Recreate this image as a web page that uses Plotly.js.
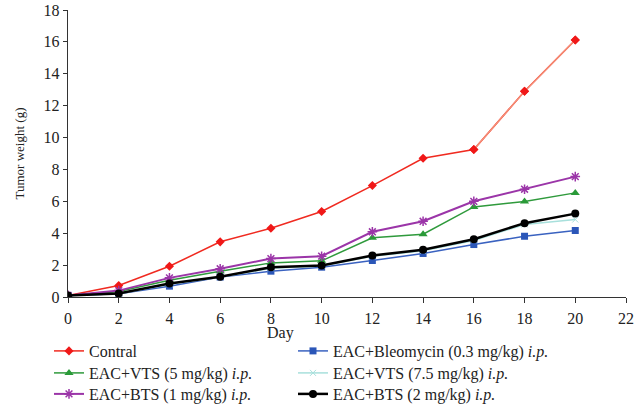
<!DOCTYPE html>
<html><head><meta charset="utf-8">
<script src="https://cdn.plot.ly/plotly-3.0.1.min.js"></script>
<style>html,body{margin:0;padding:0;background:#fff}#chart{width:640px;height:405px}</style>
</head><body><div id="chart"></div>
<script>
const days = [0, 2, 4, 6, 8, 10, 12, 14, 16, 18, 20];
const control    = [0.1, 0.72, 1.93, 3.46, 4.31, 5.36, 6.99, 8.70, 9.25, 12.9, 16.12];
const bleomycin  = [0.1, 0.2, 0.68, 1.25, 1.62, 1.87, 2.29, 2.73, 3.29, 3.81, 4.17];
const vts5       = [0.1, 0.35, 1.05, 1.62, 2.14, 2.27, 3.71, 3.94, 5.65, 5.99, 6.53];
const vts75      = [0.1, 0.2, 0.8, 1.25, 1.8, 1.95, 2.55, 2.9, 3.55, 4.55, 4.86];
const bts1       = [0.1, 0.4, 1.2, 1.77, 2.41, 2.56, 4.09, 4.75, 6.0, 6.76, 7.55];
const bts2       = [0.1, 0.22, 0.85, 1.27, 1.87, 1.97, 2.6, 2.96, 3.62, 4.63, 5.23];
const names = ['Contral', 'EAC+Bleomycin (0.3 mg/kg) <i>i.p.</i>', 'EAC+VTS (5 mg/kg) <i>i.p.</i>',
  'EAC+VTS (7.5 mg/kg) <i>i.p.</i>', 'EAC+BTS (1 mg/kg) <i>i.p.</i>', 'EAC+BTS (2 mg/kg) <i>i.p.</i>'];
const xTicks = [0, 2, 4, 6, 8, 10, 12, 14, 16, 18, 20, 22];
const yTicks = [0, 2, 4, 6, 8, 10, 12, 14, 16, 18];

const serif = '"Liberation Serif", "Times New Roman", serif';
const traces = [
  {x: days, y: control, name: names[0], mode: 'lines+markers', legend: 'legend',
   line: {color: '#f02a20', width: 1.5}, marker: {symbol: 'diamond', size: 7, color: '#f01818'}},
  {x: days, y: bleomycin, name: names[1], mode: 'lines+markers', legend: 'legend2',
   line: {color: '#3a62c0', width: 1.5}, marker: {symbol: 'square', size: 7, color: '#2b56b8'}},
  {x: days, y: vts5, name: names[2], mode: 'lines+markers', legend: 'legend3',
   line: {color: '#2f9a3c', width: 1.5}, marker: {symbol: 'triangle-up', size: 8, color: '#2a9a38'}},
  {x: days, y: vts75, name: names[3], mode: 'lines+markers', legend: 'legend4',
   line: {color: '#a8e0dc', width: 1.5}, marker: {symbol: 'x-thin-open', size: 6, color: '#a8e0dc', line: {width: 1, color: '#a8e0dc'}}},
  {x: days, y: bts1, name: names[4], mode: 'lines+markers', legend: 'legend5',
   line: {color: '#9b35a8', width: 2}, marker: {symbol: 'asterisk-open', size: 8, color: '#9b35a8', line: {width: 1.5, color: '#9b35a8'}}},
  {x: days, y: bts2, name: names[5], mode: 'lines+markers', legend: 'legend6',
   line: {color: '#000000', width: 2.5}, marker: {symbol: 'circle', size: 8, color: '#000000'}},
  {x: days.slice(8), y: control.slice(8), name: names[0], mode: 'lines+markers', showlegend: false,
   line: {color: '#f5937a', width: 1.3}, marker: {symbol: 'diamond', size: 7, color: '#f01818'}}
];
const order = [0, 6, 1, 2, 3, 4, 5];
const data = order.map(i => traces[i]);

function legendCell(xLeft, yc) {
  return {orientation: 'h', xref: 'container', yref: 'container', x: xLeft / 640, y: 1 - yc / 405,
    xanchor: 'left', yanchor: 'middle', traceorder: 'normal',
    font: {family: serif, size: 16, color: '#222'}, itemwidth: 30, bgcolor: 'rgba(0,0,0,0)'};
}
const layout = {
  width: 640, height: 405,
  margin: {l: 68, r: 14, t: 10, b: 108},
  paper_bgcolor: '#fff', plot_bgcolor: '#fff',
  font: {family: serif, size: 16, color: '#222'},
  showlegend: true,
  legend: legendCell(49, 351), legend2: legendCell(293, 351),
  legend3: legendCell(49, 373), legend4: legendCell(293, 373),
  legend5: legendCell(49, 394), legend6: legendCell(293, 394),
  xaxis: {range: [0, 22], tickvals: xTicks, ticktext: xTicks.map(String), showgrid: false, zeroline: false,
    showline: true, linecolor: '#333', linewidth: 1.2, ticks: 'outside', ticklen: 5, tickcolor: '#333',
    ticklabelstandoff: 2, tickfont: {size: 16}, fixedrange: true},
  yaxis: {range: [0, 18], tickvals: yTicks, ticktext: yTicks.map(String), showgrid: false, zeroline: false,
    showline: true, linecolor: '#333', linewidth: 1.2, ticks: 'outside', ticklen: 4, tickcolor: '#333',
    tickfont: {size: 16}, title: {text: 'Tumor weight (g)', font: {size: 13}, standoff: 16}, fixedrange: true},
  annotations: [{text: 'Day', xref: 'paper', yref: 'paper', x: (280 - 68) / 558, y: (297.5 - 333) / 287,
    xanchor: 'center', yanchor: 'middle', showarrow: false, font: {size: 16, color: '#222'}}]
};
Plotly.newPlot('chart', data, layout, {staticPlot: true, displayModeBar: false});
</script></body></html>
